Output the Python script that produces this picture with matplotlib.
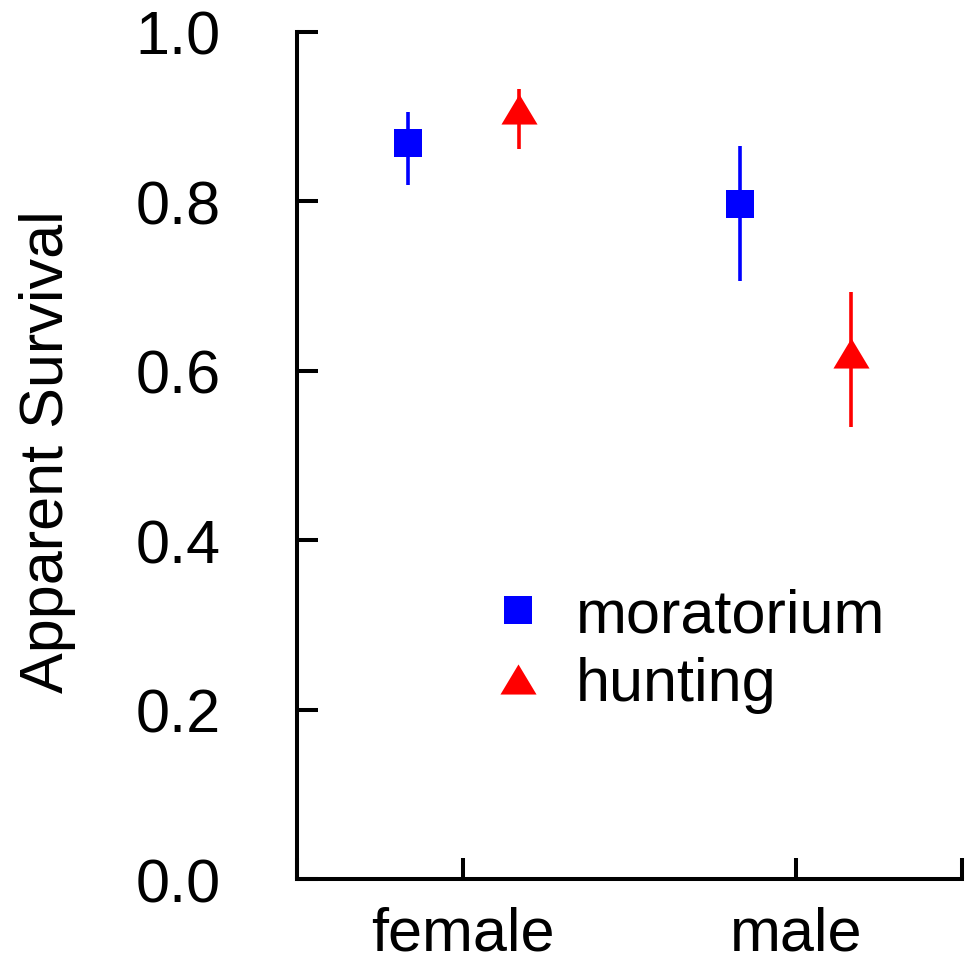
import numpy as np
import matplotlib
matplotlib.use('Agg')
import matplotlib.pyplot as plt
from matplotlib.lines import Line2D

plt.rcParams['font.family'] = ['Liberation Sans', 'DejaVu Sans']

# data
groups = ['female', 'male']
group_pos = np.array([1.0, 2.0])
offset = 0.167

moratorium = [0.869, 0.797]
moratorium_lo = [0.819, 0.706]
moratorium_hi = [0.906, 0.866]

hunting = [0.909, 0.621]
hunting_lo = [0.862, 0.534]
hunting_hi = [0.933, 0.693]

tri = [(-1.2, -1.0), (1.2, -1.0), (0.0, 1.0), (-1.2, -1.0)]
blue = '#0000ff'
red = '#ff0000'

fig = plt.figure(figsize=(9.66, 9.62), dpi=100)
ax = fig.add_axes([0.3075, 0.0852, 0.6884, 0.8805])

def err(vals, lo, hi):
    vals = np.array(vals)
    return [vals - np.array(lo), np.array(hi) - vals]

ax.errorbar(group_pos - offset, moratorium, yerr=err(moratorium, moratorium_lo, moratorium_hi),
            fmt='s', color=blue, ms=20, elinewidth=2.6, capsize=0, mew=0)
ax.errorbar(group_pos + offset, hunting, yerr=err(hunting, hunting_lo, hunting_hi),
            fmt='none', ecolor=red, elinewidth=2.6, capsize=0)
ax.plot(group_pos + offset, hunting, linestyle='none', marker=tri, color=red,
        ms=26, mew=0)

ax.set_xlim(0.5, 2.5)
ax.set_ylim(0, 1.0)
ax.set_xticks([0.5, 1, 2, 2.5])
ax.set_xticklabels(['', groups[0], groups[1], ''])
ax.set_yticks([0, 0.2, 0.4, 0.6, 0.8, 1.0])
ax.set_yticklabels(['0.0', '0.2', '0.4', '0.6', '0.8', '1.0'])

for s in ['top', 'right']:
    ax.spines[s].set_visible(False)
for s in ['left', 'bottom']:
    ax.spines[s].set_linewidth(2.9)

ax.tick_params(axis='y', direction='in', length=15, width=2.9, pad=55, labelsize=44)
ax.tick_params(axis='x', direction='in', length=15, width=2.9, pad=19, labelsize=44)

ax.set_ylabel('Apparent Survival', fontsize=44)
ax.yaxis.set_label_coords(-0.333, 0.506)

handles = [Line2D([], [], linestyle='none', marker='s', color=blue, ms=20, mew=0),
           Line2D([], [], linestyle='none', marker=tri, color=red, ms=26, mew=0)]
leg = ax.legend(handles, ['moratorium', 'hunting'], loc='center left',
                bbox_to_anchor=(0.241, 0.27), frameon=False, fontsize=44,
                numpoints=1, handlelength=1.0, handletextpad=0.44,
                labelspacing=0.2, borderpad=0)

fig.savefig('out.png', dpi=100)
